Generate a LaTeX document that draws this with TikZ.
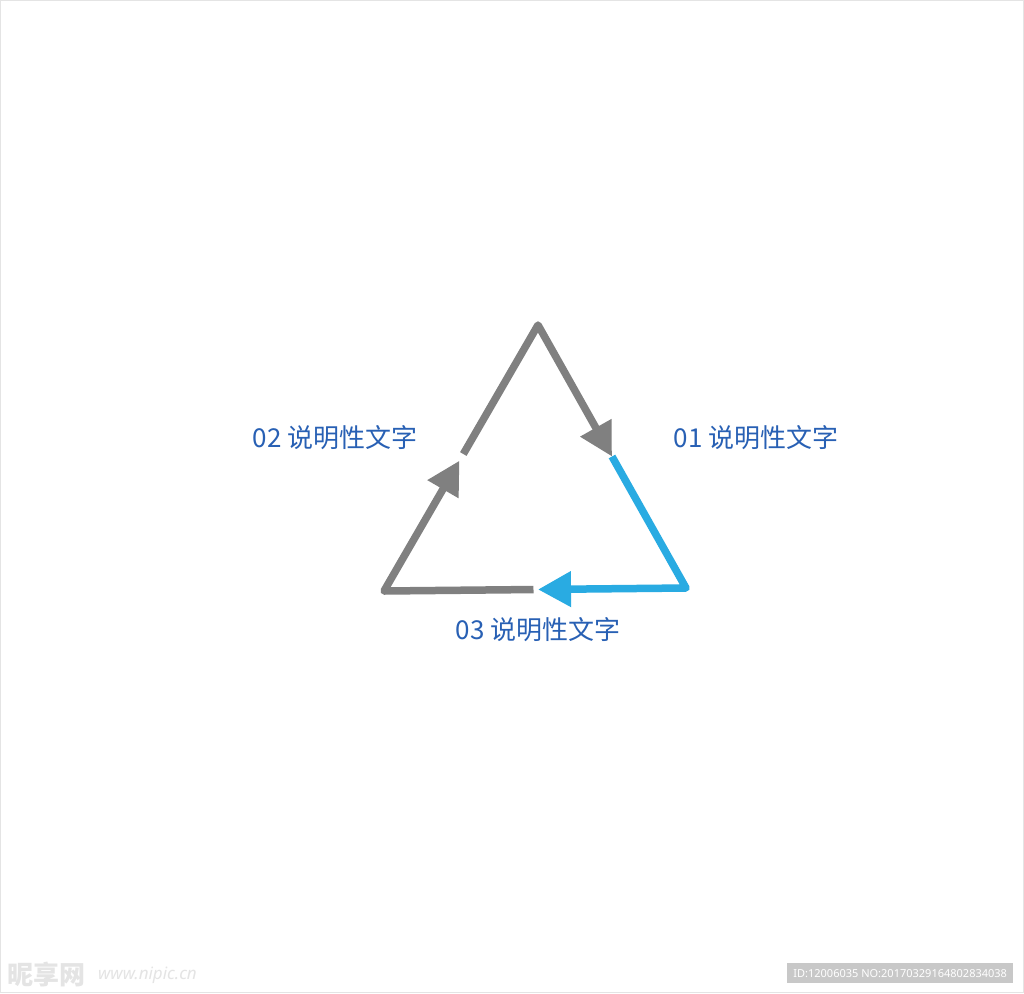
\documentclass[tikz,border=0pt]{standalone}
\usepackage{fontspec}
\setmainfont{Noto Sans}
\newfontfamily\cjk{Noto Sans CJK SC}
\usetikzlibrary{arrows.meta,calc}
\definecolor{linegray}{RGB}{128,128,128}
\definecolor{lineblue}{RGB}{41,171,226}
\definecolor{textblue}{RGB}{40,96,180}
\definecolor{idgray}{RGB}{200,200,200}
\definecolor{wmgray}{RGB}{228,228,228}
\tikzset{
  seg/.style={line width=7.5pt, line join=round, line cap=butt},
  tip/.style={-{Triangle[length=33pt,width=34pt]}},
  label/.style={text=textblue, font=\cjk\fontsize{26}{30}\selectfont, inner sep=0pt, anchor=center},
}
\begin{document}
\begin{tikzpicture}[x=1pt,y=-1pt]
  \useasboundingbox (0,0) rectangle (1024,993);
  \fill[white] (0,0) rectangle (1024,993);
  \draw[wmgray, line width=1pt] (0.5,0.5) rectangle (1023.5,992.5);
  % vertices
  \coordinate (T) at (538,325);
  \coordinate (L) at (384,591);
  \coordinate (R) at (686,588);
  \coordinate (tipR) at ($(T)!0.5!(R)$);
  \coordinate (tipB) at ($(R)!0.49!(L)$);
  \coordinate (startB) at ($(R)!0.505!(L)$);
  \coordinate (tipL) at ($(L)!0.49!(T)$);
  \coordinate (startL) at ($(L)!0.515!(T)$);
  % segments
  \draw[seg, tip, linegray] (startL) -- (T) -- (tipR);
  \draw[seg, tip, lineblue] (tipR) -- (R) -- (tipB);
  \draw[seg, tip, linegray] (startB) -- (L) -- (tipL);
  % labels
  \node[label] (l1) at (756,438) {01 说明性文字};
  \node[label] (l2) at (335,438) {02 说明性文字};
  \node[label] (l3) at (538,630) {03 说明性文字};
  % watermark
  \node[fill=idgray, minimum width=226pt, minimum height=20pt, inner sep=0pt, anchor=north west,
        text=white, font=\fontsize{11}{13}\selectfont] (id) at (787,963) {ID:12006035 NO:20170329164802834038};
  \node[text=wmgray, font=\cjk\bfseries\fontsize{26}{30}\selectfont, inner sep=0pt, anchor=west] (wm1) at (7,974) {昵享网};
  \node[text=wmgray, font=\bfseries\itshape\fontsize{17}{20}\selectfont, inner sep=0pt, anchor=west] (wm2) at (98,975) {www.nipic.cn};
\end{tikzpicture}
\end{document}
